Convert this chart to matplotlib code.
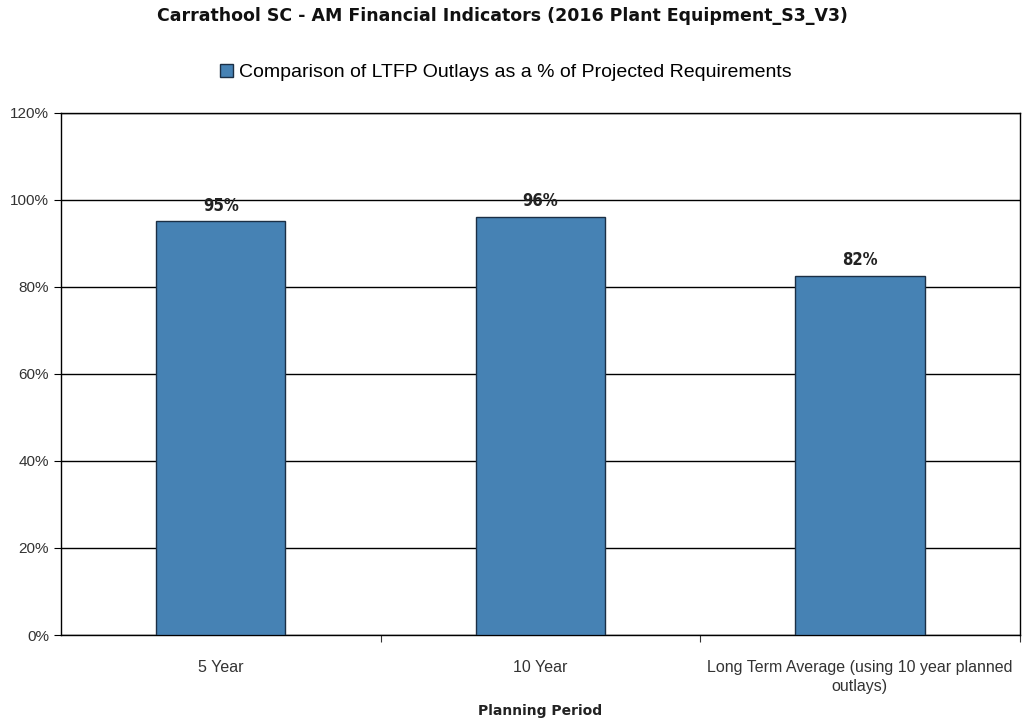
import matplotlib
matplotlib.use("Agg")
import matplotlib.pyplot as plt
from matplotlib.ticker import FuncFormatter
from matplotlib.patches import Patch

# data
categories = ["5 Year", "10 Year", "Long Term Average (using 10 year planned\noutlays)"]
values = [95.0, 96.0, 82.4]
bar_labels = ["95%", "96%", "82%"]
series_name = "Comparison of LTFP Outlays as a % of Projected Requirements"

fig = plt.figure(figsize=(10.22, 7.24), dpi=100)
ax = fig.add_axes([0.0597, 0.1229, 0.938, 0.7215])

x = range(len(categories))
ax.bar(x, values, width=0.405, color="#4682B4", edgecolor="#1b2f45", linewidth=1.0, zorder=3)

for i, v in enumerate(values):
    ax.text(i, v + 1.6, bar_labels[i], ha="center", va="bottom", fontsize=12,
            fontweight="bold", color="#222222", family="DejaVu Sans", stretch="condensed")

ax.set_xlim(-0.5, len(categories) - 0.5)
ax.set_ylim(0, 120)
ax.set_yticks(range(0, 121, 20))
ax.yaxis.set_major_formatter(FuncFormatter(lambda v, p: "%d%%" % v))
ax.grid(axis="y", color="black", linewidth=1.0, zorder=0)

# category ticks sit between the bars, labels centred under the bars
ax.set_xticks([i + 0.5 for i in range(len(categories))])
ax.set_xticklabels([])
ax.set_xticks(list(x), minor=True)
ax.set_xticklabels(categories, minor=True, fontsize=11.5, family="Liberation Sans",
                   color="#333333", linespacing=1.35)
ax.tick_params(axis="x", which="minor", length=0, pad=18)
ax.tick_params(axis="x", which="major", length=5, direction="out", color="#333333")
ax.tick_params(axis="y", length=5, direction="out", labelsize=11, labelcolor="#333333")
for lbl in ax.get_yticklabels():
    lbl.set_family("Liberation Sans")

for s in ax.spines.values():
    s.set_color("black")
    s.set_linewidth(1.0)

fig.text(0.528, 0.018, "Planning Period", ha="center", va="center", fontsize=10,
         fontweight="bold", family="DejaVu Sans", color="#222222")

fig.text(0.492, 0.978, "Carrathool SC - AM Financial Indicators (2016 Plant Equipment_S3_V3)",
         ha="center", va="center", fontsize=12.5, fontweight="bold", family="DejaVu Sans",
         color="#111111")

handle = Patch(facecolor="#4682B4", edgecolor="#1b2f45", linewidth=1.0)
fig.legend([handle], [series_name], loc="center", bbox_to_anchor=(0.495, 0.9),
           frameon=False, prop={"family": "Liberation Sans", "size": 14},
           handlelength=0.7, handleheight=0.7, handletextpad=0.3)

fig.savefig("out.png", dpi=100)
